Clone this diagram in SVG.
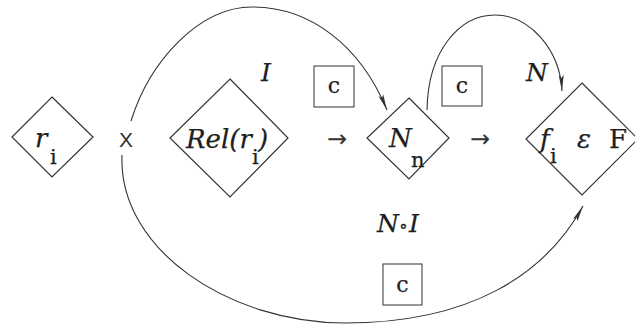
<svg xmlns="http://www.w3.org/2000/svg" width="635" height="327" viewBox="0 0 635 327">
<defs>
<style>
.shape{fill:none;stroke:#333;stroke-width:1.2}
.box{fill:none;stroke:#444;stroke-width:1.1}
.conn{fill:none;stroke:#333;stroke-width:1.1}
.t{font-family:"DejaVu Serif","Liberation Serif",serif;fill:#1e1e1e;stroke:#1e1e1e;stroke-width:0.25}
.it{font-style:italic;font-size:26px}
.lb{font-style:italic;font-size:25px}
.sub{font-style:normal;font-size:21px}
.c{font-size:22px;text-anchor:middle}
.x{font-family:"Liberation Sans",Arial,sans-serif;font-size:21px;fill:#333;text-anchor:middle}
.arr{font-family:"DejaVu Sans",sans-serif;font-size:24px;fill:#333}
</style>
<marker id="ah" markerUnits="userSpaceOnUse" markerWidth="17" markerHeight="8" refX="16" refY="3.5" orient="auto">
<path d="M0,1 L16,3.5 L0,6 L3,3.5 Z" fill="#333"/>
</marker>
</defs>
<rect width="635" height="327" fill="#fff"/>

<g id="node-ri">
<polygon class="shape" points="52,97 93,137 52,177 12,137"/>
<text class="t it" x="35" y="147">r<tspan class="sub" x="50" y="164">i</tspan></text>
</g>

<g id="node-X">
<text class="x" x="126" y="147">X</text>
</g>

<g id="node-rel">
<polygon class="shape" points="230,79 288,138 230,197 170,138"/>
<text class="t it" x="186" y="148">Rel(r<tspan class="sub" x="252" y="164">i</tspan><tspan x="258" y="148">)</tspan></text>
</g>

<g id="node-Nn">
<polygon class="shape" points="409,98 449,138 409,179 367,138"/>
<text class="t it" x="389" y="147">N<tspan class="sub" x="411" y="167">n</tspan></text>
</g>

<g id="node-fi">
<polygon class="shape" points="582,83 638,139 582,195 526,139"/>
<text class="t it" x="540" y="148">f<tspan class="sub" x="550" y="163">i</tspan><tspan x="577" y="148">ε</tspan><tspan font-style="normal" x="609" y="148">F</tspan></text>
</g>

<g id="arrow-1"><text class="arr" x="327" y="147">→</text></g>
<g id="arrow-2"><text class="arr" x="470" y="147">→</text></g>

<g id="box-1"><rect class="box" x="314" y="66" width="40" height="41"/><text class="t c" x="334" y="93">c</text></g>
<g id="box-2"><rect class="box" x="442" y="66" width="40" height="40"/><text class="t c" x="462" y="93">c</text></g>
<g id="box-3"><rect class="box" x="383" y="264" width="39" height="41"/><text class="t c" x="402.5" y="292">c</text></g>

<g id="labels">
<text class="t lb" x="377" y="232">N<tspan font-style="normal" font-size="18px" x="399" y="232">∘</tspan><tspan x="409" y="232">I</tspan></text>
<text class="t lb" x="261" y="81">I</text>
<text class="t lb" x="526" y="81">N</text>
</g>

<g id="connectors">
<path class="conn" d="M131,121 C150,60 200,7 252,7 C310,7 360,45 387,110" marker-end="url(#ah)"/>
<path class="conn" d="M427,110 C428,50 460,15 495,15 C530,15 560,50 562,91" marker-end="url(#ah)"/>
<path class="conn" d="M122,155 C118,250 230,323 345,323 C470,323 545,275 583,206" marker-end="url(#ah)"/>
</g>
</svg>
